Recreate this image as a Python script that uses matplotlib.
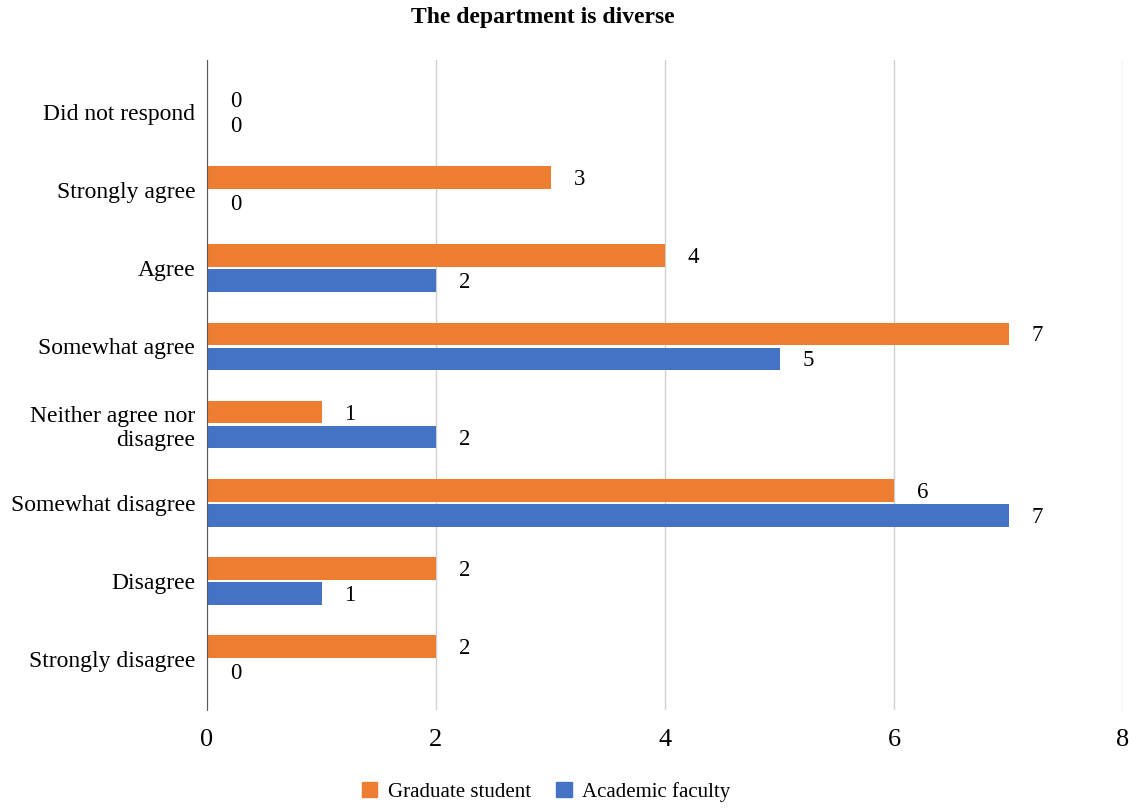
import matplotlib
matplotlib.use("Agg")
import matplotlib.pyplot as plt
from matplotlib.patches import Patch

plt.rcParams['font.family'] = ['Liberation Serif', 'DejaVu Serif']

# bottom -> top
categories = ["Strongly disagree", "Disagree", "Somewhat disagree",
              "Neither agree nor\ndisagree", "Somewhat agree", "Agree",
              "Strongly agree", "Did not respond"]
grad = [2, 2, 6, 1, 7, 4, 3, 0]
faculty = [0, 1, 7, 2, 5, 2, 0, 0]
series_names = ["Graduate student", "Academic faculty"]
x_ticks = [0, 2, 4, 6, 8]

ORANGE = "#ED7D31"
BLUE = "#4472C4"

fig = plt.figure(figsize=(11.38, 8.08), dpi=100)
ax = fig.add_axes([207 / 1138, 1 - 710 / 808, (1123 - 207) / 1138, 650 / 808])

pos = list(range(len(categories)))
h = 0.29
off = 0.16
ax.barh([p + off for p in pos], grad, height=h, color=ORANGE, zorder=3)
ax.barh([p - off for p in pos], faculty, height=h, color=BLUE, zorder=3)

# data labels
for p, g, f in zip(pos, grad, faculty):
    ax.annotate(str(g), (g, p + off), xytext=(23, -2), textcoords="offset pixels",
                ha="left", va="center", fontsize=16.5)
    ax.annotate(str(f), (f, p - off), xytext=(23, -2), textcoords="offset pixels",
                ha="left", va="center", fontsize=16.5)

ax.set_xlim(0, 8)
ax.set_ylim(-0.653, 7.665)
ax.set_xticks(x_ticks)
ax.set_xticklabels([str(t) for t in x_ticks], fontsize=19)
ax.set_yticks(pos)
ax.set_yticklabels(categories, fontsize=17)
ax.tick_params(axis="y", length=0, pad=8.5)
ax.tick_params(axis="x", length=0, pad=14)

ax.grid(axis="x", color="#d0d0d0", linewidth=1, zorder=0)
for s in ["top", "right", "bottom"]:
    ax.spines[s].set_visible(False)
ax.spines["left"].set_color("#595959")
ax.spines["left"].set_zorder(4)

fig.text(543 / 1138, 1 - 18 / 808, "The department is diverse", ha="center",
         va="center", fontsize=17, fontweight="bold")

handles = [Patch(color=ORANGE), Patch(color=BLUE)]
fig.legend(handles, series_names, loc="center", bbox_to_anchor=(546 / 1138, 1 - 792 / 808),
           ncol=2, frameon=False, fontsize=15, handlelength=0.75, handleheight=0.75,
           handletextpad=0.5, columnspacing=1.2)

fig.savefig("out.png", dpi=100)
